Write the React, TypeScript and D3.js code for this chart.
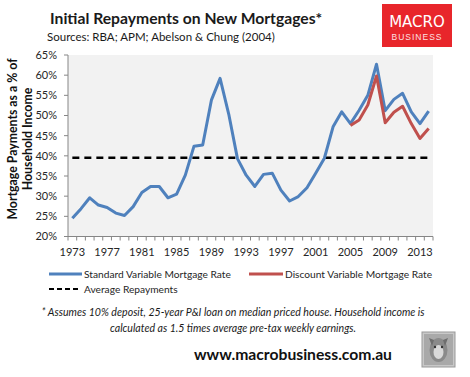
import React from "react";
import * as d3 from "d3";

const years: number[] = d3.range(1973, 2015);
const standardRate: number[] = [
  24.5, 26.9, 29.6, 27.8, 27.2, 25.8, 25.2, 27.4, 30.9, 32.4,
  32.4, 29.6, 30.5, 35.2, 42.4, 42.7, 53.8, 59.2, 50.3, 39.3,
  35.2, 32.4, 35.4, 35.7, 31.5, 28.8, 29.9, 32.1, 35.7, 39.4,
  47.2, 50.9, 48.0, 51.3, 55.0, 62.7, 51.2, 54.0, 55.5, 50.9,
  48.0, 51.1,
];
const discountYears: number[] = d3.range(2005, 2015);
const discountRate: number[] = [47.5, 48.9, 52.6, 59.8, 48.2, 50.8, 52.3, 48.0, 44.3, 46.8];
const averageRepayment = 39.5;
const yTicks: number[] = [20, 25, 30, 35, 40, 45, 50, 55, 60, 65];
const xLabelYears: number[] = [1973, 1977, 1981, 1985, 1989, 1993, 1997, 2001, 2005, 2009, 2013];

const FONT = "Lato, 'Open Sans', sans-serif";

export default function App() {
  const W = 470, H = 377;
  const left = 68, right = 433, top = 55, bottom = 236.5;
  const x = d3.scaleBand<number>().domain(years).range([left, right]).paddingInner(0).paddingOuter(0);
  const bw = x.bandwidth();
  const cx = (yr: number) => (x(yr) as number) + bw / 2;
  const y = d3.scaleLinear().domain([20, 65]).range([bottom, top]);

  const line = d3.line<[number, number]>().x((d) => cx(d[0])).y((d) => y(d[1]));
  const stdPath = line(years.map((yr, i) => [yr, standardRate[i]]));
  const discPath = line(discountYears.map((yr, i) => [yr, discountRate[i]]));

  const blue = "#4f81bd";
  const red = "#c0504d";
  const axisColor = "#868686";
  const textColor = "#262626";

  const boundaries = [...years.map((yr) => x(yr) as number), right];

  return (
    <svg width={W} height={H} style={{ position: "absolute", left: 0, top: 0, background: "#fff" }}>
      <rect x={0} y={0} width={W} height={H} fill="#fff" />
      {/* Title */}
      <text x={50} y={24} fontFamily={FONT} fontWeight="bold" fontSize={15.7} fill="#1a1a1a">
        Initial Repayments on New Mortgages*
      </text>
      <text x={47} y={41} fontFamily={FONT} fontSize={11.5} fill="#1a1a1a">
        Sources: RBA; APM; Abelson &amp; Chung (2004)
      </text>
      {/* Logo */}
      <rect x={382} y={4} width={70} height={43} fill="#e8262b" />
      <text x={417} y={27} textAnchor="middle" fontFamily="'DejaVu Sans', sans-serif" fontSize={15} fill="#fff" fontWeight="normal">
        MACRO
      </text>
      <text x={417} y={40} textAnchor="middle" fontFamily="'Liberation Sans', Arial, sans-serif" fontSize={8.5} letterSpacing={1} fill="#fde0e0">
        BUSINESS
      </text>

      {/* Plot background */}
      <rect x={left} y={top} width={right - left} height={bottom - top} fill="#f2f2f2" />

      {/* Y axis */}
      <line x1={left} x2={left} y1={top} y2={bottom} stroke={axisColor} />
      {yTicks.map((t) => (
        <g key={t}>
          <line x1={left - 4} x2={left} y1={y(t)} y2={y(t)} stroke={axisColor} />
          <text x={57} y={y(t)} dy="0.35em" textAnchor="end" fontFamily={FONT} fontSize={11} fill={textColor}>
            {t}%
          </text>
        </g>
      ))}
      {/* X axis */}
      <line x1={left} x2={right} y1={bottom} y2={bottom} stroke={axisColor} />
      {boundaries.map((bx, i) => (
        <line key={i} x1={bx} x2={bx} y1={bottom} y2={bottom + 4} stroke={axisColor} />
      ))}
      {xLabelYears.map((yr) => (
        <text key={yr} x={cx(yr)} y={252} dy="0.35em" textAnchor="middle" fontFamily={FONT} fontSize={11} fill={textColor}>
          {yr}
        </text>
      ))}

      {/* Y axis title */}
      <g transform="translate(13,139) rotate(-90)">
        <text x={0} y={0} dy="0.35em" textAnchor="middle" fontFamily={FONT} fontWeight="bold" fontSize={12.3} fill="#111">
          Mortgage Payments as a % of
        </text>
        <text x={0} y={15} dy="0.35em" textAnchor="middle" fontFamily={FONT} fontWeight="bold" fontSize={12.3} fill="#111">
          Household Income
        </text>
      </g>

      {/* Average line */}
      <line
        x1={cx(years[0])}
        x2={cx(years[years.length - 1])}
        y1={y(averageRepayment)}
        y2={y(averageRepayment)}
        stroke="#000"
        strokeWidth={2.5}
        strokeDasharray="7,5"
      />
      <path d={stdPath ?? ""} fill="none" stroke={blue} strokeWidth={3} strokeLinejoin="round" />
      <path d={discPath ?? ""} fill="none" stroke={red} strokeWidth={3} strokeLinejoin="round" />

      {/* Legend */}
      <line x1={49} x2={82} y1={274} y2={274} stroke={blue} strokeWidth={3} />
      <text x={84} y={274} dy="0.35em" fontFamily={FONT} fontSize={10.2} fill={textColor}>
        Standard Variable Mortgage Rate
      </text>
      <line x1={249} x2={283} y1={274} y2={274} stroke={red} strokeWidth={3} />
      <text x={285} y={274} dy="0.35em" fontFamily={FONT} fontSize={10.2} fill={textColor}>
        Discount Variable Mortgage Rate
      </text>
      <line x1={49} x2={79} y1={289} y2={289} stroke="#000" strokeWidth={2} strokeDasharray="5,3" />
      <text x={84} y={289} dy="0.35em" fontFamily={FONT} fontSize={10.2} fill={textColor}>
        Average Repayments
      </text>

      {/* Footnote */}
      <text x={233} y={312} dy="0.35em" textAnchor="middle" fontFamily={FONT} fontStyle="italic" fontSize={10.6} fill="#1a1a1a">
        * Assumes 10% deposit, 25-year P&amp;I loan on median priced house. Household income is
      </text>
      <text x={233} y={328} dy="0.35em" textAnchor="middle" fontFamily={FONT} fontStyle="italic" fontSize={10.6} fill="#1a1a1a">
        calculated as 1.5 times average pre-tax weekly earnings.
      </text>

      {/* URL */}
      <text x={293} y={355} dy="0.35em" textAnchor="middle" fontFamily={FONT} fontWeight="bold" fontSize={15.7} fill="#111">
        www.macrobusiness.com.au
      </text>

      {/* Wolf badge */}
      <rect x={422} y={332} width={33} height={35} fill="#c8c8c8" stroke="#999" strokeWidth={1} />
      <rect x={424} y={334} width={29} height={31} fill="#a9a9a9" />
      <ellipse cx={438.5} cy={350} rx={9} ry={12} fill="#8a8a8a" />
      <ellipse cx={438.5} cy={352} rx={5} ry={7} fill="#d9d9d9" />
      <circle cx={435} cy={347} r={1.2} fill="#333" />
      <circle cx={442} cy={347} r={1.2} fill="#333" />
      <path d="M429,338 L432,346 L434,340 Z M448,338 L445,346 L443,340 Z" fill="#6e6e6e" />
    </svg>
  );
}
